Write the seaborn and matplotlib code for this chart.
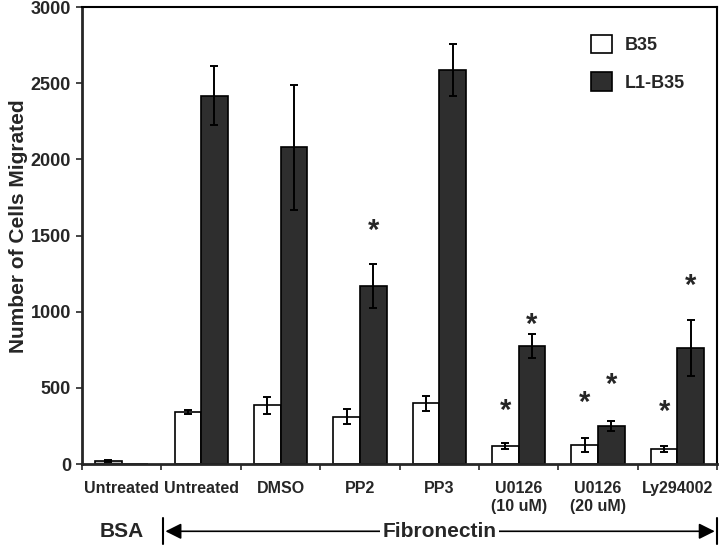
import matplotlib
matplotlib.use("Agg")
import matplotlib.pyplot as plt
import matplotlib.transforms as mtransforms
import seaborn as sns
import pandas as pd
import numpy as np

# Data
conditions = ['Untreated', 'Untreated', 'DMSO', 'PP2', 'PP3',
              'U0126\n(10 uM)', 'U0126\n(20 uM)', 'Ly294002']
b35_mean = [20, 340, 385, 310, 400, 118, 125, 99]
b35_err = [6, 12, 55, 50, 50, 20, 45, 22]
l1_mean = [0, 2418, 2079, 1171, 2586, 776, 250, 763]
l1_err = [0, 195, 410, 145, 170, 80, 33, 185]

# significance markers: (condition index, series index, y position)
sig_cond = [3, 5, 5, 6, 6, 7, 7]
sig_series = [1, 0, 1, 0, 1, 0, 1]
sig_y = [1530, 350, 915, 400, 520, 340, 1170]

series_names = ['B35', 'L1-B35']
cond_ids = [f'c{i}' for i in range(len(conditions))]

df = pd.DataFrame({
    'cond': cond_ids * 2,
    'series': [series_names[0]] * len(conditions) + [series_names[1]] * len(conditions),
    'value': b35_mean + l1_mean,
})

sns.set_style("white")
plt.rcParams['font.family'] = ['Liberation Sans', 'DejaVu Sans']
plt.rcParams['font.weight'] = 'bold'

fig = plt.figure(figsize=(7.2, 5.46), dpi=100)
ax = fig.add_axes([0.114, 0.150, 0.882, 0.837])

sns.barplot(data=df, x='cond', y='value', hue='series', order=cond_ids,
            hue_order=series_names, palette=['white', '#2e2e2e'],
            width=0.67, gap=0, edgecolor='black', linewidth=1.2,
            errorbar=None, ax=ax, legend=True)

bars = list(ax.containers[:2])

# BSA control bar is drawn grey in the original
bars[0][0].set_facecolor('#bdbdbd')

means = [b35_mean, l1_mean]
errs = [b35_err, l1_err]
for s, cont in enumerate(bars):
    for i, p in enumerate(cont):
        if errs[s][i] <= 0:
            continue
        x = p.get_x() + p.get_width() / 2
        ax.errorbar(x, means[s][i], yerr=errs[s][i], fmt='none',
                    ecolor='black', elinewidth=1.4, capsize=3, capthick=1.4)

for c, s, y in zip(sig_cond, sig_series, sig_y):
    p = bars[s][c]
    ax.text(p.get_x() + p.get_width() / 2, y, '*', ha='center', va='center',
            fontsize=21, fontweight='bold')

ax.set_xlim(-0.5, len(conditions) - 0.5)
ax.set_ylim(0, 3000)
ax.set_yticks(np.arange(0, 3001, 500))
ax.set_yticklabels([str(v) for v in range(0, 3001, 500)], fontsize=13, fontweight='bold')
ax.set_ylabel('Number of Cells Migrated', fontsize=15, fontweight='bold')
ax.yaxis.set_label_coords(-0.085, 0.52)
ax.set_xlabel('')

ax.set_xticks(np.arange(-0.5, len(conditions), 1.0))
ax.set_xticklabels([])
ax.set_xticks(np.arange(len(conditions)), minor=True)
ax.set_xticklabels(conditions, minor=True, fontsize=11.5, fontweight='bold',
                   linespacing=1.25)
ax.tick_params(axis='x', which='minor', length=0, pad=12)
ax.tick_params(axis='x', which='major', length=4, width=1.2, direction='out', bottom=True)
ax.tick_params(axis='y', length=4, width=1.2, direction='out', left=True, pad=4)

for side in ['left', 'bottom']:
    ax.spines[side].set_linewidth(2)
for side in ['top', 'right']:
    ax.spines[side].set_linewidth(1.5)
    ax.spines[side].set_color('black')

leg = ax.legend(loc='upper right', bbox_to_anchor=(0.975, 0.975), frameon=False,
                fontsize=13, handlelength=1.2, handleheight=1.2,
                labelspacing=1.0, handletextpad=0.7)
for t in leg.get_texts():
    t.set_fontweight('bold')

# BSA / Fibronectin annotation under the axis
trans = mtransforms.blended_transform_factory(ax.transData, ax.transAxes)
yb = -0.147
ax.text(0.0, yb, 'BSA', transform=trans, ha='center', va='center',
        fontsize=15, fontweight='bold')
ax.plot([0.52, 0.52], [yb - 0.028, yb + 0.028], transform=trans, color='black',
        lw=1.5, clip_on=False)
ax.plot([7.5, 7.5], [yb - 0.028, yb + 0.028], transform=trans, color='black',
        lw=1.5, clip_on=False)
ax.annotate('', xy=(7.47, yb), xytext=(0.55, yb), xycoords=trans, textcoords=trans,
            arrowprops=dict(arrowstyle='<|-|>', color='black', lw=1.2,
                            mutation_scale=24, shrinkA=0, shrinkB=0))
ax.text(4.0, yb, 'Fibronectin', transform=trans, ha='center', va='center',
        fontsize=15, fontweight='bold',
        bbox=dict(facecolor='white', edgecolor='none', pad=2))

fig.savefig('out.png', dpi=100)
